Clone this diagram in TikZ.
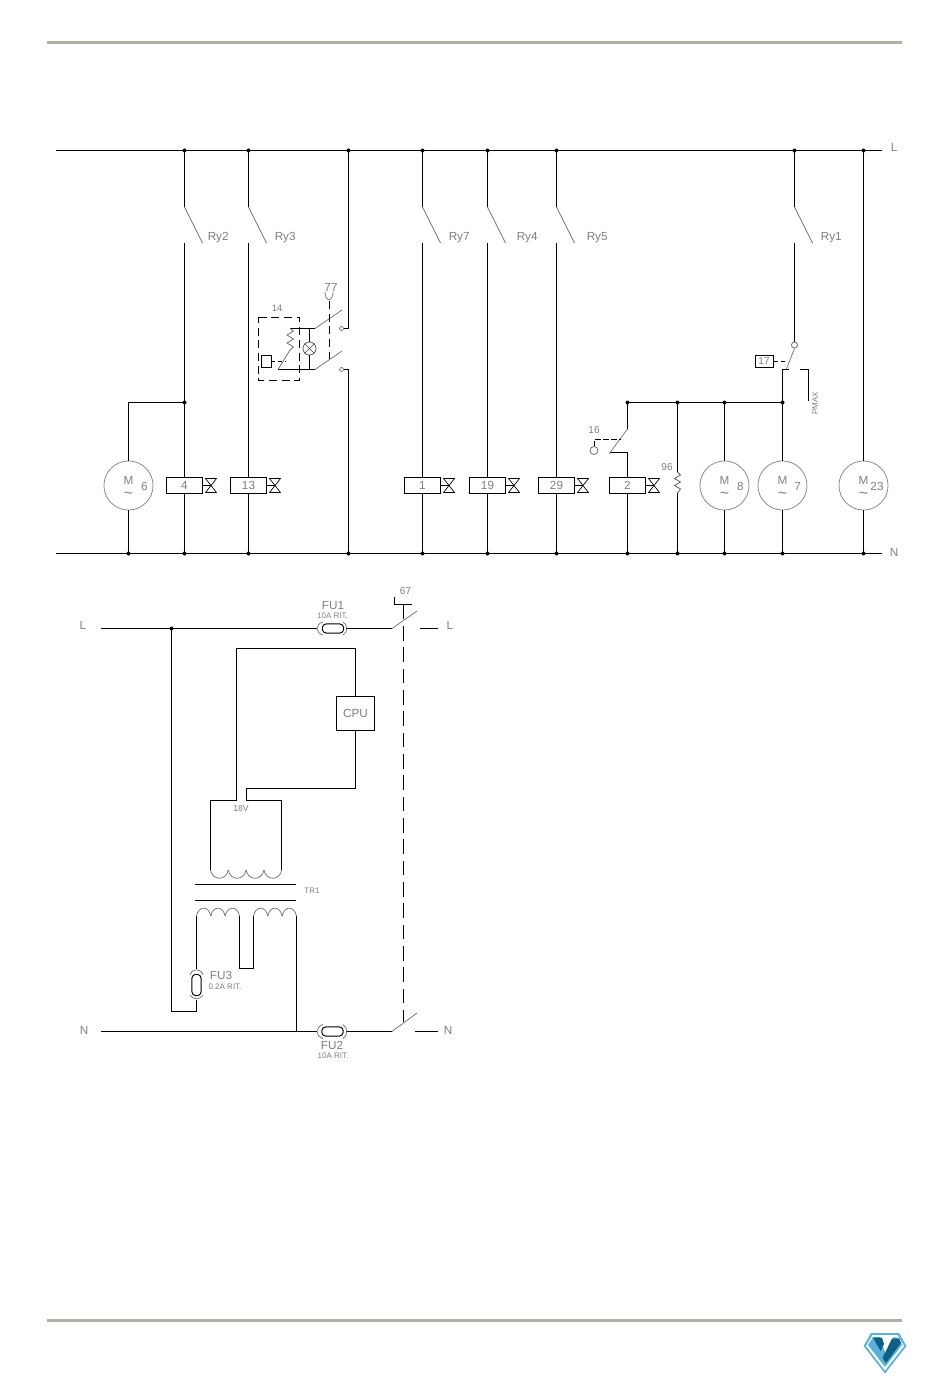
\documentclass[tikz,border=0pt]{standalone}
\usepackage{fontspec}
\setmainfont{Liberation Sans}
\definecolor{rulecol}{HTML}{B2AFA3}
\definecolor{txt}{gray}{0.5}
\definecolor{logolight}{HTML}{5AB1DC}
\definecolor{logodark}{HTML}{0F5F85}
\begin{document}
\begin{tikzpicture}[x=0.75pt,y=-0.75pt,
  wire/.style={draw=black,line width=0.72pt},
  thin line/.style={draw=black!55,line width=0.55pt},
  dashw/.style={draw=black,line width=0.72pt,dash pattern=on 6pt off 3.5pt},
  dashl/.style={draw=black,line width=0.72pt,dash pattern=on 11pt off 5pt},
  lbl/.style={text=txt,font=\fontsize{8.8pt}{9pt}\selectfont,inner sep=0pt},
  small lbl/.style={text=txt,font=\fontsize{6pt}{7pt}\selectfont,inner sep=0pt},
  coilbox/.style={draw=black,line width=0.72pt,minimum width=27pt,minimum height=12.6pt,inner sep=0pt,text=txt,font=\fontsize{8.8pt}{9pt}\selectfont},
  motor/.style={circle,draw=black!45,line width=0.6pt,minimum size=36.8pt,inner sep=0pt},
  jdot/.style={circle,fill=black,minimum size=3pt,inner sep=0pt},
  fusebody/.style={draw=black,line width=0.72pt,rounded corners=2.8pt,inner sep=0pt},
  ]
\path[use as bounding box,fill=white] (0,0) rectangle (950,1387);
% page rules
\coordinate (ra) at (47,42.5); \coordinate (rb) at (902,42.5);
\coordinate (rc) at (47,1320.5); \coordinate (rd) at (902,1320.5);
\draw[rulecol,line width=2.2pt] (ra)--(rb) (rc)--(rd);

% mains
\coordinate (Ll) at (56,150.5); \coordinate (Lr) at (882,150.5);
\coordinate (Nl) at (56,553.5); \coordinate (Nr) at (882,553.5);
\draw[wire] (Ll)--(Lr) (Nl)--(Nr);
\node[lbl] (tL) at (894,147) {L};
\node[lbl] (tN) at (894,552) {N};

% switched branches
\foreach \x/\n/\lab/\o in {184.5/a/Ry2/23,248.5/b/Ry3/26,422.5/c/Ry7/26,487.5/d/Ry4/29,556.5/e/Ry5/30,794.5/f/Ry1/26}{
  \coordinate (top\n) at (\x,150.5);
  \coordinate (swa\n) at (\x,207);
  \coordinate (swb\n) at (\x,243);
  \coordinate (swc\n) at (\x+18,243);
  \node[jdot] (dt\n) at (top\n) {};
  \draw[wire] (top\n)--(swa\n);
  \draw[thin line] (swa\n)--(swc\n);
  \node[lbl,anchor=west] (l\n) at (\x+\o,238) {\lab};
}
% coils with valves
\foreach \x/\n/\lab in {184.5/a/4,248.5/b/13,422.5/c/1,487.5/d/19,556.5/e/29,627.5/g/2}{
  \node[coilbox] (coil\n) at (\x,485.5) {\lab};
  \coordinate (bot\n) at (\x,553.5);
  \node[jdot] (db\n) at (bot\n) {};
  \draw[wire] (coil\n.south)--(bot\n);
  \coordinate (vc\n) at (\x+26.5,485.5);
  \draw[wire] (coil\n.east)--(vc\n);
  \draw[black,line width=0.5pt] (\x+21,478.5)--(\x+32,478.5)--(\x+21,492.5)--(\x+32,492.5)--cycle;
}
\foreach \n in {a,b,c,d,e}{ \draw[wire] (swb\n)--(coil\n.north); }

% motors
\foreach \x/\n/\lab/\off in {128.5/A/6/16,724.5/B/8/16,782.5/C/7/15,863.5/D/23/13.5}{
  \node[motor] (m\n) at (\x,485.5) {};
  \node[lbl] (mM\n) at (\x,480.5) {M};
  \node[lbl,font=\fontsize{12pt}{12pt}\selectfont] (mT\n) at (\x,495.5) {\textasciitilde};
  \node[lbl] (mN\n) at (\x+\off,486) {\lab};
  \coordinate (mb\n) at (\x,553.5);
  \node[jdot] (dm\n) at (mb\n) {};
  \draw[wire] (m\n.south)--(mb\n);
}
% motor 6 feed
\coordinate (j403) at (184.5,402.5);
\coordinate (k403) at (128.5,402.5);
\node[jdot] (dj403) at (j403) {};
\draw[wire] (j403)--(k403)--(mA.north);

% L-side right feed of motor 23
\coordinate (topD) at (863.5,150.5);
\node[jdot] (dtD) at (topD) {};
\draw[wire] (topD)--(mD.north);

% relay 14 / branch 77
\coordinate (topz) at (348.5,150.5);
\node[jdot] (dtz) at (topz) {};
\coordinate (zc1) at (348.5,328.5);
\coordinate (zc2) at (348.5,369.5);
\coordinate (zbot) at (348.5,553.5);
\node[jdot] (dbz) at (zbot) {};
\draw[wire] (topz)--(zc1)--(343.5,328.5);
\draw[wire] (zbot)--(zc2)--(343.5,369.5);
\node[circle,draw=black!55,line width=0.5pt,minimum size=3pt,inner sep=0pt] (ca) at (341.5,328.5) {};
\node[circle,draw=black!55,line width=0.5pt,minimum size=3pt,inner sep=0pt] (cb) at (341.5,369.5) {};
\draw[dashw] (258.5,317.5)--(299.5,317.5)--(299.5,380.5)--(258.5,380.5)--cycle;
\node[lbl,font=\fontsize{7pt}{8pt}\selectfont] (t14) at (277,308) {14};
\node[lbl] (t77) at (331,287) {77};
\coordinate (w1) at (290,328.5); \coordinate (w2) at (315,328.5);
\coordinate (w3) at (278,369.5); \coordinate (w4) at (315,369.5);
\draw[wire] (w1)--(w2) (w3)--(w4);
\draw[thin line] (w2)--(342,310) (w4)--(342,351);
\node[circle,draw=black!70,line width=0.55pt,minimum size=9.8pt,inner sep=0pt] (lamp) at (309.5,348.5) {};
\draw[wire] (309.5,328.5)--(lamp.north) (lamp.south)--(309.5,369.5);
\draw[black!70,line width=0.5pt] (lamp.north west)--(lamp.south east) (lamp.north east)--(lamp.south west);
\draw[black!60,line width=0.55pt] (w1)--(293.5,331)--(287,335)--(293.5,339)--(287,343)--(293.5,347)--(290,350)--(w3);
\node[draw=black,line width=0.72pt,minimum width=7.5pt,minimum height=9pt,inner sep=0pt] (rcoil) at (266,361) {};
\draw[dashw,dash pattern=on 3pt off 2pt] (rcoil.east)--(285,361);
\draw[dashw] (329.5,301)--(329.5,359);
\draw[thin line] (325,292) .. controls (325,302) and (333,302) .. (333,292);

% right group
\coordinate (h1) at (627.5,402.5); \coordinate (h2) at (677.5,402.5);
\coordinate (h3) at (724.5,402.5); \coordinate (h4) at (782.5,402.5);
\foreach \p in {h1,h2,h3,h4}{ \node[jdot] (d\p) at (\p) {}; }
\draw[wire] (h1)--(h4);
\draw[wire] (h3)--(mB.north) (h4)--(mC.north);
% 16 thermostat
\coordinate (s16a) at (627.5,429); \coordinate (s16b) at (609,454);
\coordinate (s16c) at (609.5,452.5); \coordinate (s16d) at (627.5,452.5);
\draw[wire] (h1)--(s16a) (s16c)--(s16d)--(coilg.north);
\draw[thin line] (s16a)--(s16b);
\node[circle,draw=black!60,line width=0.55pt,minimum size=6pt,inner sep=0pt] (o16) at (594,450.5) {};
\draw[dashw,dash pattern=on 4pt off 2pt] (o16.north)--(594,439.5)--(621,439.5);
\node[lbl,font=\fontsize{7.5pt}{8pt}\selectfont] (t16) at (594,430) {16};
% resistor 96
\coordinate (r1) at (677.5,472); \coordinate (r2) at (677.5,493);
\coordinate (r3) at (677.5,553.5);
\node[jdot] (dr3) at (r3) {};
\draw[wire] (h2)--(r1) (r2)--(r3);
\draw[black!65,line width=0.55pt] (r1)--(680.5,475)--(674.5,478.5)--(680.5,482)--(674.5,485.5)--(680.5,489)--(r2);
\node[lbl,font=\fontsize{7.5pt}{8pt}\selectfont] (t96) at (667,467) {96};
% 17 and PMAX
\node[draw=black,line width=0.72pt,minimum width=13.5pt,minimum height=8.6pt,inner sep=0pt,text=txt,font=\fontsize{7.5pt}{8pt}\selectfont] (c17) at (764,361.5) {17};
\node[circle,draw=black!60,line width=0.55pt,minimum size=4.6pt,inner sep=0pt] (o17) at (794.5,345) {};
\draw[wire] (swbf)--(o17.north);
\draw[thin line] (o17.south)--(786,370);
\draw[dashw,dash pattern=on 3.5pt off 2pt] (c17.east)--(788,361.5);
\coordinate (p1) at (782.5,369.5); \coordinate (p2) at (788.5,369.5);
\coordinate (p3) at (800,369.5); \coordinate (p4) at (808.5,369.5); \coordinate (p5) at (808.5,401);
\draw[wire] (p2)--(p1)--(h4) (p3)--(p4)--(p5);
\node[small lbl,rotate=90] (tpm) at (815,403) {PMAX};

% ---- lower diagram
\coordinate (l1) at (101,628.5); \coordinate (f1l) at (317,628.5);
\coordinate (f1r) at (346,628.5); \coordinate (sw1) at (392,628.5);
\coordinate (sw1t) at (417,611); \coordinate (l2) at (420,628.5); \coordinate (l3) at (438,628.5);
\coordinate (j171) at (171.5,628.5);
\node[jdot] (dj171) at (j171) {};
\draw[wire] (l1)--(f1l) (f1r)--(sw1) (l2)--(l3);
\draw[thin line] (sw1)--(sw1t);
\node[lbl] (tLa) at (83,625) {L};
\node[lbl] (tLb) at (450,625) {L};
\node[fusebody,minimum width=16pt,minimum height=6.8pt] (fu1) at (333,628.5) {};
\draw[thin line] (323,622) .. controls (315,624) and (315,633) .. (323,635);
\draw[thin line] (343,622) .. controls (348,624) and (348,633) .. (343,635);
\node[lbl] (tFU1) at (333,605.5) {FU1};
\node[small lbl] (tFU1b) at (332.5,616) {10A RIT.};

\coordinate (n1) at (101,1031.5); \coordinate (f2l) at (317,1031.5);
\coordinate (f2r) at (346,1031.5); \coordinate (sw2) at (392,1031.5);
\coordinate (sw2t) at (417,1013); \coordinate (n2) at (415,1031.5); \coordinate (n3) at (438,1031.5);
\draw[wire] (n1)--(f2l) (f2r)--(sw2) (n2)--(n3);
\draw[thin line] (sw2)--(sw2t);
\node[lbl] (tNa) at (84,1030) {N};
\node[lbl] (tNb) at (448,1030) {N};
\node[fusebody,minimum width=16pt,minimum height=6.8pt] (fu2) at (332.5,1031.5) {};
\draw[thin line] (323,1024.5) .. controls (315,1027) and (315,1036) .. (323,1038.5);
\draw[thin line] (343,1024.5) .. controls (348,1027) and (348,1036) .. (343,1038.5);
\node[lbl] (tFU2) at (332,1045) {FU2};
\node[small lbl] (tFU2b) at (333,1056) {10A RIT.};

% ganged switch
\coordinate (g1) at (403.5,604.5); \coordinate (g2) at (403.5,1022);
\draw[dashl] (g1)--(g2);
\draw[wire] (394.5,597)--(394.5,604.5)--(412,604.5);
\node[lbl,font=\fontsize{7.5pt}{8pt}\selectfont] (t67) at (405.5,591) {67};

% FU3
\node[fusebody,minimum width=6.8pt,minimum height=16pt] (fu3) at (196.5,985) {};
\draw[thin line] (190,975) .. controls (192,968) and (201,968) .. (203,975);
\draw[thin line] (190,995) .. controls (192,1000) and (201,1000) .. (203,995);
\coordinate (u1) at (196.5,1011.5); \coordinate (u2) at (171.5,1011.5);
\coordinate (u3) at (196.5,1000);
\draw[wire] (j171)--(u2)--(u1)--(u3);
\node[lbl] (tFU3) at (221,975.5) {FU3};
\node[small lbl] (tFU3b) at (225,986.5) {0.2A RIT.};

% transformer
\coordinate (p1a) at (196.5,916); \coordinate (p1b) at (196.5,969);
\coordinate (p2a) at (239.5,916); \coordinate (p2b) at (239.5,968.5);
\coordinate (p2c) at (253.5,968.5); \coordinate (p2d) at (253.5,916);
\coordinate (p3a) at (296.5,916); \coordinate (p3b) at (296.5,1031.5);
\draw[wire] (p1a)--(p1b) (p2a)--(p2b)--(p2c)--(p2d) (p3a)--(p3b);
\foreach \a in {196.5,210.8,225.2}{ \draw[thin line] (\a,916) .. controls (\a+2,905.5) and (\a+12.3,905.5) .. (\a+14.3,916); }
\foreach \a in {253.5,267.8,282.2}{ \draw[thin line] (\a,916) .. controls (\a+2,905.5) and (\a+12.3,905.5) .. (\a+14.3,916); }
\coordinate (core1a) at (195,884.5); \coordinate (core1b) at (296,884.5);
\coordinate (core2a) at (195,900.5); \coordinate (core2b) at (296,900.5);
\draw[wire] (core1a)--(core1b) (core2a)--(core2b);
\foreach \a in {210.5,228.3,246.1,263.9}{ \draw[thin line] (\a,870) .. controls (\a+2,881) and (\a+15.8,881) .. (\a+17.8,870); }
\node[small lbl] (tTR) at (312,890.5) {TR1};
\node[small lbl,font=\fontsize{6.5pt}{7pt}\selectfont] (t18) at (241,808.5) {18V};
\node[draw=black,line width=0.72pt,minimum width=28.5pt,minimum height=25.5pt,inner sep=0pt,text=txt,font=\fontsize{8.8pt}{9pt}\selectfont] (cpu) at (355.5,713) {CPU};
\coordinate (s1) at (210.5,870); \coordinate (s2) at (210.5,800.5);
\coordinate (s3) at (236.5,800.5); \coordinate (s4) at (236.5,648.5);
\coordinate (s5) at (355.5,648.5);
\coordinate (s6) at (281.5,870); \coordinate (s7) at (281.5,800.5);
\coordinate (s8) at (246.5,800.5); \coordinate (s9) at (246.5,788.5); \coordinate (s10) at (355.5,788.5);
\draw[wire] (s1)--(s2)--(s3)--(s4)--(s5)--(cpu.north);
\draw[wire] (s6)--(s7)--(s8)--(s9)--(s10)--(cpu.south);

% logo
\fill[logolight] (871,1333)--(899,1333)--(906.5,1346)--(885,1373.5)--(863.5,1346)--cycle;
\fill[white] (872.5,1335)--(897.5,1335)--(904,1346)--(885,1370.5)--(866,1346)--cycle;
\fill[logolight] (868,1345)--(873,1337)--(880,1337)--(885.5,1353)--(893,1337)--(899,1338)--(902,1345)--(885,1367)--cycle;
\fill[white] (880,1337)--(893,1337)--(885.5,1353)--cycle;
\fill[logodark] (873,1337.5)--(882,1337.5)--(884,1344)--(880.5,1351)--cycle;
\fill[logodark] (892,1338.5)--(899,1338.5)--(901,1343)--(886,1363)--(882.5,1358)--cycle;
\end{tikzpicture}
\end{document}
